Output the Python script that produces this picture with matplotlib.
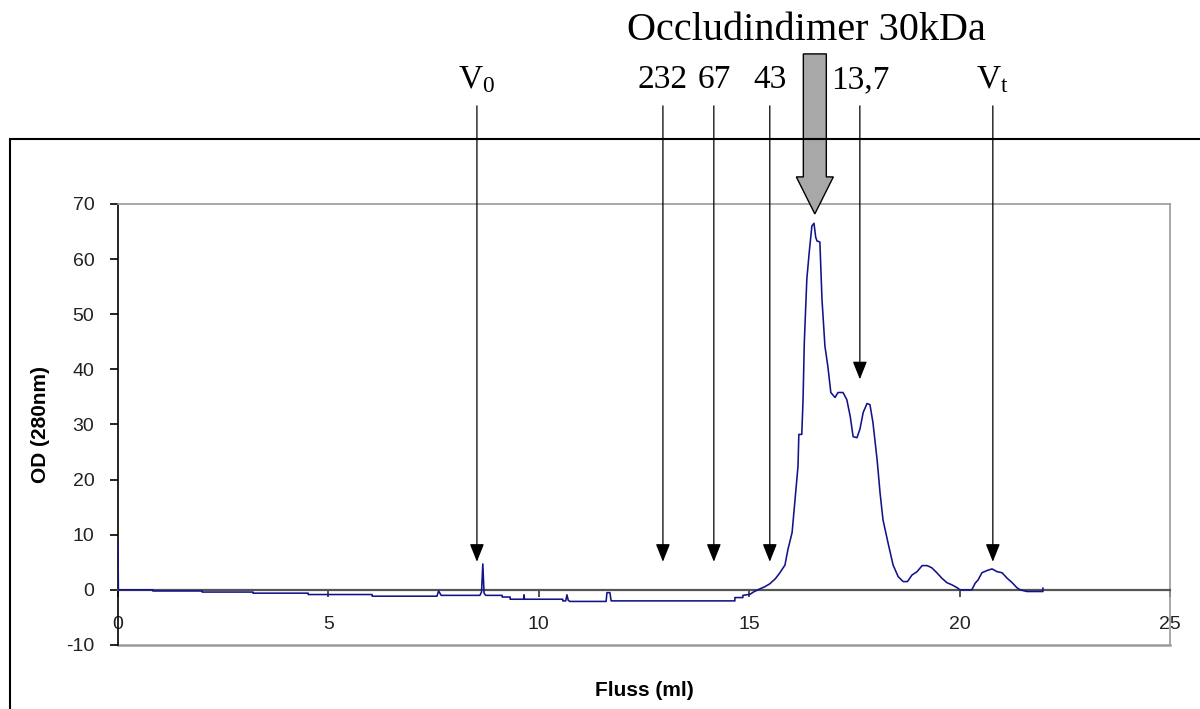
import matplotlib
matplotlib.use("Agg")
import matplotlib.pyplot as plt
import matplotlib.transforms as mtransforms
from matplotlib.patches import Polygon, Rectangle

plt.rcParams["mathtext.fontset"] = "custom"
plt.rcParams["mathtext.rm"] = "Liberation Serif"
plt.rcParams["mathtext.it"] = "Liberation Serif:italic"

# Elution profile: flow volume (ml) and absorbance OD 280 nm
volume_ml = [
    0.00, 0.01, 0.83, 0.83, 2.00, 2.00, 3.21, 3.21, 4.52, 4.52, 6.04, 6.04,
    7.58, 7.62, 7.68, 8.60, 8.64, 8.67, 8.70, 8.74, 9.13, 9.13, 9.32, 9.32,
    9.64, 9.65, 9.66, 10.57, 10.57, 10.64, 10.67, 10.70, 10.74, 11.60, 11.62,
    11.69, 11.72, 14.66, 14.66, 14.85, 14.85, 15.02, 15.10, 15.26, 15.38,
    15.49, 15.62, 15.73, 15.85, 15.92, 16.02, 16.09, 16.16, 16.18, 16.25,
    16.28, 16.31, 16.37, 16.43, 16.49, 16.54, 16.58, 16.61, 16.68, 16.73,
    16.80, 16.87, 16.94, 17.04, 17.11, 17.23, 17.32, 17.40, 17.47, 17.56,
    17.63, 17.71, 17.80, 17.87, 17.94, 18.04, 18.11, 18.18, 18.30, 18.42,
    18.54, 18.66, 18.76, 18.87, 18.99, 19.11, 19.23, 19.34, 19.46, 19.58,
    19.70, 19.82, 19.94, 20.01, 20.29, 20.37, 20.44, 20.53, 20.65, 20.77,
    20.89, 21.01, 21.13, 21.25, 21.36, 21.44, 21.60, 21.98, 21.98,
]
od_280 = [
    8.7, 0.0, 0.0, -0.2, -0.2, -0.4, -0.4, -0.6, -0.6, -0.85, -0.85, -1.15,
    -1.15, -0.2, -1.0, -1.0, -0.4, 4.7, -0.6, -1.0, -1.0, -1.3, -1.3, -1.7,
    -1.7, -0.9, -1.7, -1.7, -2.0, -2.0, -0.9, -1.9, -2.1, -2.1, -0.5,
    -0.5, -2.0, -2.0, -1.4, -1.4, -1.0, -0.8, -0.4, 0.2, 0.6,
    1.1, 2.0, 3.1, 4.5, 7.3, 10.4, 16.4, 22.4, 28.2, 28.2,
    34.5, 44.9, 56.4, 61.5, 66.0, 66.5, 64.0, 63.3, 63.1, 52.7,
    44.2, 40.5, 35.8, 34.9, 35.8, 35.8, 34.5, 31.5, 27.8, 27.6,
    29.1, 32.2, 33.8, 33.6, 30.4, 23.6, 17.6, 12.7, 8.5, 4.5,
    2.4, 1.5, 1.5, 2.7, 3.3, 4.4, 4.4, 4.0, 3.1, 2.1,
    1.3, 0.9, 0.4, 0.0, 0.0, 1.2, 1.8, 3.1, 3.5, 3.8,
    3.3, 3.1, 2.1, 1.3, 0.4, 0.0, -0.3, -0.3, 0.3,
]

# Calibration markers (kDa) and column volumes
marker_labels = [r"V$_\mathrm{0}$", "232", "67", "43", "13,7", r"V$_\mathrm{t}$"]
marker_volumes = [8.53, 12.95, 14.16, 15.49, 17.63, 20.79]
marker_tip_od = [5.1, 5.1, 5.1, 5.1, 38.2, 5.1]

sample_label = "Occludindimer 30kDa"
sample_volume = 16.56
sample_tip_od = 68.2

x_ticks = [0, 5, 10, 15, 20, 25]
y_ticks = [-10, 0, 10, 20, 30, 40, 50, 60, 70]

fig = plt.figure(figsize=(12, 7.09), dpi=100)
ax = fig.add_axes([0.0983, 0.0903, 0.8767, 0.622])

# outer chart frame
fig.patches.append(Rectangle((10 / 1200, -0.2), 1.5, 1.2 - 139 / 709,
                             transform=fig.transFigure, fill=False,
                             edgecolor="black", lw=1.5))

ax.plot(volume_ml, od_280, color="#12128a", lw=1.15, zorder=3)

ax.set_xlim(0, 25)
ax.set_ylim(-10, 70)

for side in ("top", "right"):
    ax.spines[side].set_color("#9a9a9a")
    ax.spines[side].set_linewidth(1.2)
ax.spines["left"].set_color("black")
ax.spines["left"].set_linewidth(1.2)
ax.spines["bottom"].set_position(("data", 0))
ax.spines["bottom"].set_color("#555555")
ax.spines["bottom"].set_linewidth(1.6)
ax.axhline(-10, color="#9a9a9a", lw=1.8, clip_on=False, zorder=1)

ax.set_xticks(x_ticks)
ax.set_yticks(y_ticks)
ax.set_xticklabels([str(v) for v in x_ticks])
ax.set_yticklabels([str(v) for v in y_ticks])
ax.tick_params(axis="y", direction="out", length=6, width=1.2, color="black",
               pad=11, labelsize=14, labelcolor="#222222")
ax.tick_params(axis="x", direction="out", length=5, width=1.2, color="#333333",
               pad=14, labelsize=14, labelcolor="#222222")
for lab in ax.get_xticklabels() + ax.get_yticklabels():
    lab.set_fontfamily("Liberation Sans")

ax.text(-0.074, 0.5, "OD (280nm)", transform=ax.transAxes, rotation=90,
        ha="center", va="center", fontsize=15, fontweight="bold",
        family="Liberation Sans")
ax.text(0.5, -0.104, "Fluss (ml)", transform=ax.transAxes,
        ha="center", va="center", fontsize=15, fontweight="bold",
        family="Liberation Sans")

# calibration arrows and labels
arrow_top = 87.8
label_y = 91.0
for lab, vol, tip in zip(marker_labels, marker_volumes, marker_tip_od):
    ax.annotate("", xy=(vol, tip), xytext=(vol, arrow_top),
                annotation_clip=False,
                arrowprops=dict(arrowstyle="-|>,head_length=0.55,head_width=0.22",
                                mutation_scale=20, color="black", lw=0.9,
                                shrinkA=0, shrinkB=0))
    ax.text(vol, label_y, lab, ha="center", va="baseline", fontsize=24,
            family="Liberation Serif", clip_on=False)

# block arrow for the occludin dimer peak (sizes in inches around the tip)
tip_trans = fig.dpi_scale_trans + mtransforms.ScaledTranslation(
    sample_volume, sample_tip_od, ax.transData)
bw, hw, hl, total = 0.115, 0.185, 0.37, 1.60
verts = [(0, 0), (-hw, hl), (-bw, hl), (-bw, total), (bw, total), (bw, hl), (hw, hl)]
ax.add_patch(Polygon(verts, closed=True, transform=tip_trans, facecolor="#a8a8a8",
                     edgecolor="black", lw=1.0, clip_on=False, zorder=4))
ax.text(16.37, 99.8, sample_label, ha="center", va="baseline", fontsize=29,
        family="Liberation Serif", clip_on=False)

fig.savefig("out.png", dpi=100)
